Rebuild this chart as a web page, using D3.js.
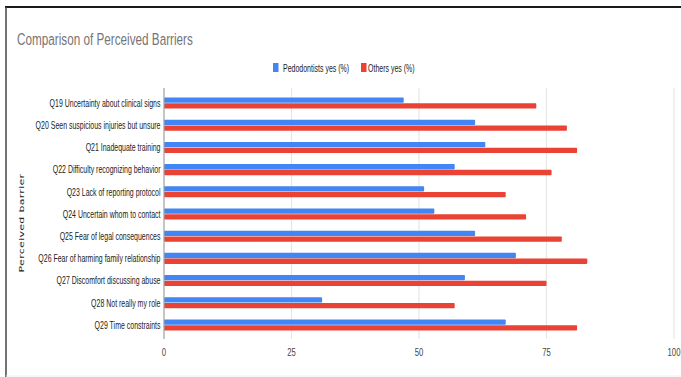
<!DOCTYPE html>
<html>
<head>
<meta charset="utf-8">
<script src="https://cdn.jsdelivr.net/npm/d3@7/dist/d3.min.js"></script>
<style>
  html, body { margin: 0; padding: 0; background: #fff; }
  svg { display: block; }
  text { font-family: "Liberation Sans", Arial, sans-serif; }
</style>
</head>
<body>
<svg id="chart" width="681" height="377"></svg>
<script>
// Survey barriers and the share answering "yes" in each group
const categories = [
  "Q19 Uncertainty about clinical signs",
  "Q20 Seen suspicious injuries but unsure",
  "Q21 Inadequate training",
  "Q22 Difficulty recognizing behavior",
  "Q23 Lack of reporting protocol",
  "Q24 Uncertain whom to contact",
  "Q25 Fear of legal consequences",
  "Q26 Fear of harming family relationship",
  "Q27 Discomfort discussing abuse",
  "Q28 Not really my role",
  "Q29 Time constraints"
];
const pedodontistsYes = [47, 61, 63, 57, 51, 53, 61, 69, 59, 31, 67];
const othersYes       = [73, 79, 81, 76, 67, 71, 78, 83, 75, 57, 81];
const seriesNames = ["Pedodontists yes (%)", "Others yes (%)"];
const xTicks = [0, 25, 50, 75, 100];

const colors = ["#4285F4", "#EA4335"];
const SQ = 0.70; // horizontal text compression

const svg = d3.select("#chart");

// frame
svg.append("line").attr("x1", 5).attr("x2", 681).attr("y1", 7).attr("y2", 7)
  .attr("stroke", "#1a1a1a").attr("stroke-width", 2);
svg.append("line").attr("x1", 6).attr("x2", 6).attr("y1", 7).attr("y2", 377)
  .attr("stroke", "#444").attr("stroke-width", 1.5);
svg.append("line").attr("x1", 6).attr("x2", 681).attr("y1", 376).attr("y2", 376)
  .attr("stroke", "#eeeeee").attr("stroke-width", 1);

function squished(sel, x, y, k = SQ) {
  return sel.attr("transform", `translate(${x},${y}) scale(${k},1)`);
}

// title
squished(svg.append("text"), 17, 45, 0.69)
  .attr("font-size", 17).attr("fill", "#757575")
  .text("Comparison of Perceived Barriers");

// scales
const x = d3.scaleLinear().domain([0, 100]).range([164, 674]);
const y = d3.scaleBand().domain(categories).range([92, 336])
  .paddingInner(0.46).paddingOuter(0.23);
const ySub = d3.scaleBand().domain(seriesNames).range([0, y.bandwidth()]).padding(0.08);

// gridlines
const grid = svg.append("g");
grid.selectAll("line").data(xTicks.filter(t => t > 0)).join("line")
  .attr("x1", d => x(d)).attr("x2", d => x(d))
  .attr("y1", 88).attr("y2", 339)
  .attr("stroke", "#e6e6e6").attr("stroke-width", 1.2);

// tick labels
svg.append("g").selectAll("text").data(xTicks).join("text")
  .attr("transform", d => `translate(${x(d)},356) scale(${SQ},1)`)
  .attr("text-anchor", "middle").attr("font-size", 11).attr("fill", "#444")
  .text(d => d);

// bars
const series = [pedodontistsYes, othersYes];
series.forEach((vals, si) => {
  svg.append("g").selectAll("rect").data(categories).join("rect")
    .attr("x", x(0))
    .attr("y", c => y(c) + ySub(seriesNames[si]))
    .attr("width", (c, i) => x(vals[i]) - x(0))
    .attr("height", ySub.bandwidth())
    .attr("rx", 0.8)
    .attr("fill", colors[si]);
});

// zero baseline
svg.append("line").attr("x1", x(0)).attr("x2", x(0)).attr("y1", 88).attr("y2", 339)
  .attr("stroke", "#9e9e9e").attr("stroke-width", 1.2);

// category labels
svg.append("g").selectAll("text").data(categories).join("text")
  .attr("transform", c => `translate(160.5,${y(c) + y.bandwidth() / 2 + 3.8}) scale(0.635,1)`)
  .attr("text-anchor", "end").attr("font-size", 11).attr("fill", "#222")
  .text(c => c);

// axis title
svg.append("text")
  .attr("transform", `translate(24,223) scale(${SQ},1) rotate(-90)`)
  .attr("text-anchor", "middle").attr("font-size", 11).attr("fill", "#222")
  .attr("letter-spacing", 0.3)
  .style("font-family", "'DejaVu Sans', sans-serif")
  .text("Perceived barrier");

// legend
const legend = svg.append("g");
const legendItems = [
  { name: seriesNames[0], sx: 273, tx: 283 },
  { name: seriesNames[1], sx: 361, tx: 368 }
];
legendItems.forEach((it, i) => {
  legend.append("rect").attr("x", it.sx).attr("y", 63).attr("width", 5.5).attr("height", 9)
    .attr("fill", colors[i]);
  squished(legend.append("text"), it.tx, 71.5)
    .attr("font-size", 10).attr("fill", "#222").text(it.name);
});
</script>
</body>
</html>
